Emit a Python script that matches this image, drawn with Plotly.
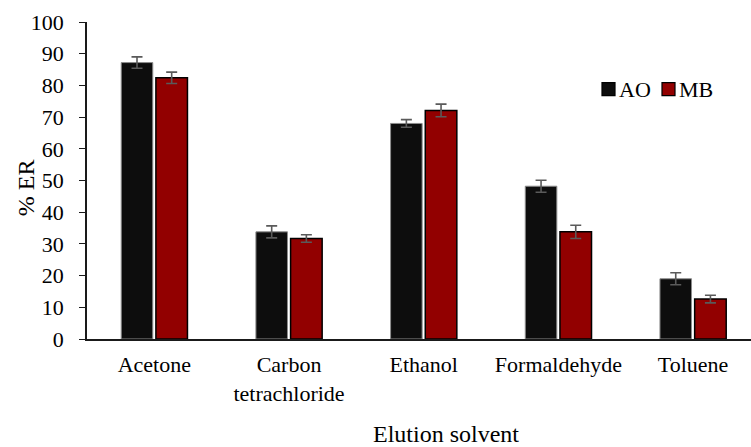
import plotly.graph_objects as go

categories = ["Acetone", "Carbon<br>tetrachloride", "Ethanol", "Formaldehyde", "Toluene"]
ao_values = [87.2, 33.8, 68.0, 48.2, 19.0]
ao_errors = [1.8, 1.9, 1.2, 1.9, 1.9]
mb_values = [82.4, 31.7, 72.1, 33.8, 12.6]
mb_errors = [1.8, 1.2, 2.0, 2.1, 1.2]
y_ticks = list(range(0, 101, 10))
series_names = ["AO", "MB"]
series_colors = ["#0d0d0d", "#920000"]

FONT = "Times New Roman, Liberation Serif, serif"

# plot-area geometry in pixels
L, T, W, H = 87, 22, 664, 316.7
def px(x):
    return (x - L) / W
def py(y):
    return (T + H - y) / H

fig = go.Figure()
fig.add_trace(go.Bar(
    name=series_names[0], x=categories, y=ao_values,
    marker=dict(color=series_colors[0], line=dict(color="#8c8c8c", width=1)),
    error_y=dict(type="data", array=ao_errors, color="#5a5a5a", thickness=1.6, width=5.5),
))
fig.add_trace(go.Bar(
    name=series_names[1], x=categories, y=mb_values,
    marker=dict(color=series_colors[1], line=dict(color="#000000", width=1.5)),
    error_y=dict(type="data", array=mb_errors, color="#5a5a5a", thickness=1.6, width=5.5),
))

# custom legend (square swatch directly followed by text)
leg_x = [602, 662]
leg_y = 89
for name, col, lx in zip(series_names, series_colors, leg_x):
    fig.add_shape(type="rect", xref="paper", yref="paper",
                  x0=px(lx), x1=px(lx + 13),
                  y0=py(leg_y + 6.5), y1=py(leg_y - 6.5),
                  fillcolor=col, line=dict(color="#000000", width=1.2))
    fig.add_annotation(xref="paper", yref="paper", x=px(lx + 15),
                       y=py(leg_y), xanchor="left", yanchor="middle",
                       text=name, showarrow=False,
                       font=dict(family=FONT, size=22, color="#000000"))

# axis titles
fig.add_annotation(xref="paper", yref="paper", x=px(446), y=py(448),
                   xanchor="center", yanchor="bottom", text="Elution solvent",
                   showarrow=False, borderpad=0,
                   font=dict(family=FONT, size=24, color="#000000"))
fig.add_annotation(xref="paper", yref="paper", x=px(26), y=py(188),
                   xanchor="center", yanchor="middle", text="% ER", textangle=-90,
                   showarrow=False, font=dict(family=FONT, size=24, color="#000000"))

fig.update_layout(
    width=751, height=447,
    margin=dict(l=87, r=0, t=22, b=108.3),
    paper_bgcolor="white", plot_bgcolor="white",
    barmode="group", bargap=0.485, bargroupgap=0.09,
    font=dict(family=FONT, size=22, color="#000000"),
    showlegend=False,
    xaxis=dict(
        range=[-0.5, 4.43], showline=True, linecolor="#1a1a1a", linewidth=1.5,
        ticks="", showgrid=False, zeroline=False, automargin=False,
        ticklabelstandoff=5,
        tickfont=dict(family=FONT, size=22),
    ),
    yaxis=dict(
        range=[0, 100], tickvals=y_ticks, showline=True, linecolor="#1a1a1a", linewidth=1.5,
        ticks="outside", ticklen=6, tickwidth=1.2, tickcolor="#1a1a1a",
        showgrid=False, zeroline=False, ticklabelstandoff=11, automargin=False,
        tickfont=dict(family=FONT, size=22),
    ),
)

fig.write_html("out.html")
